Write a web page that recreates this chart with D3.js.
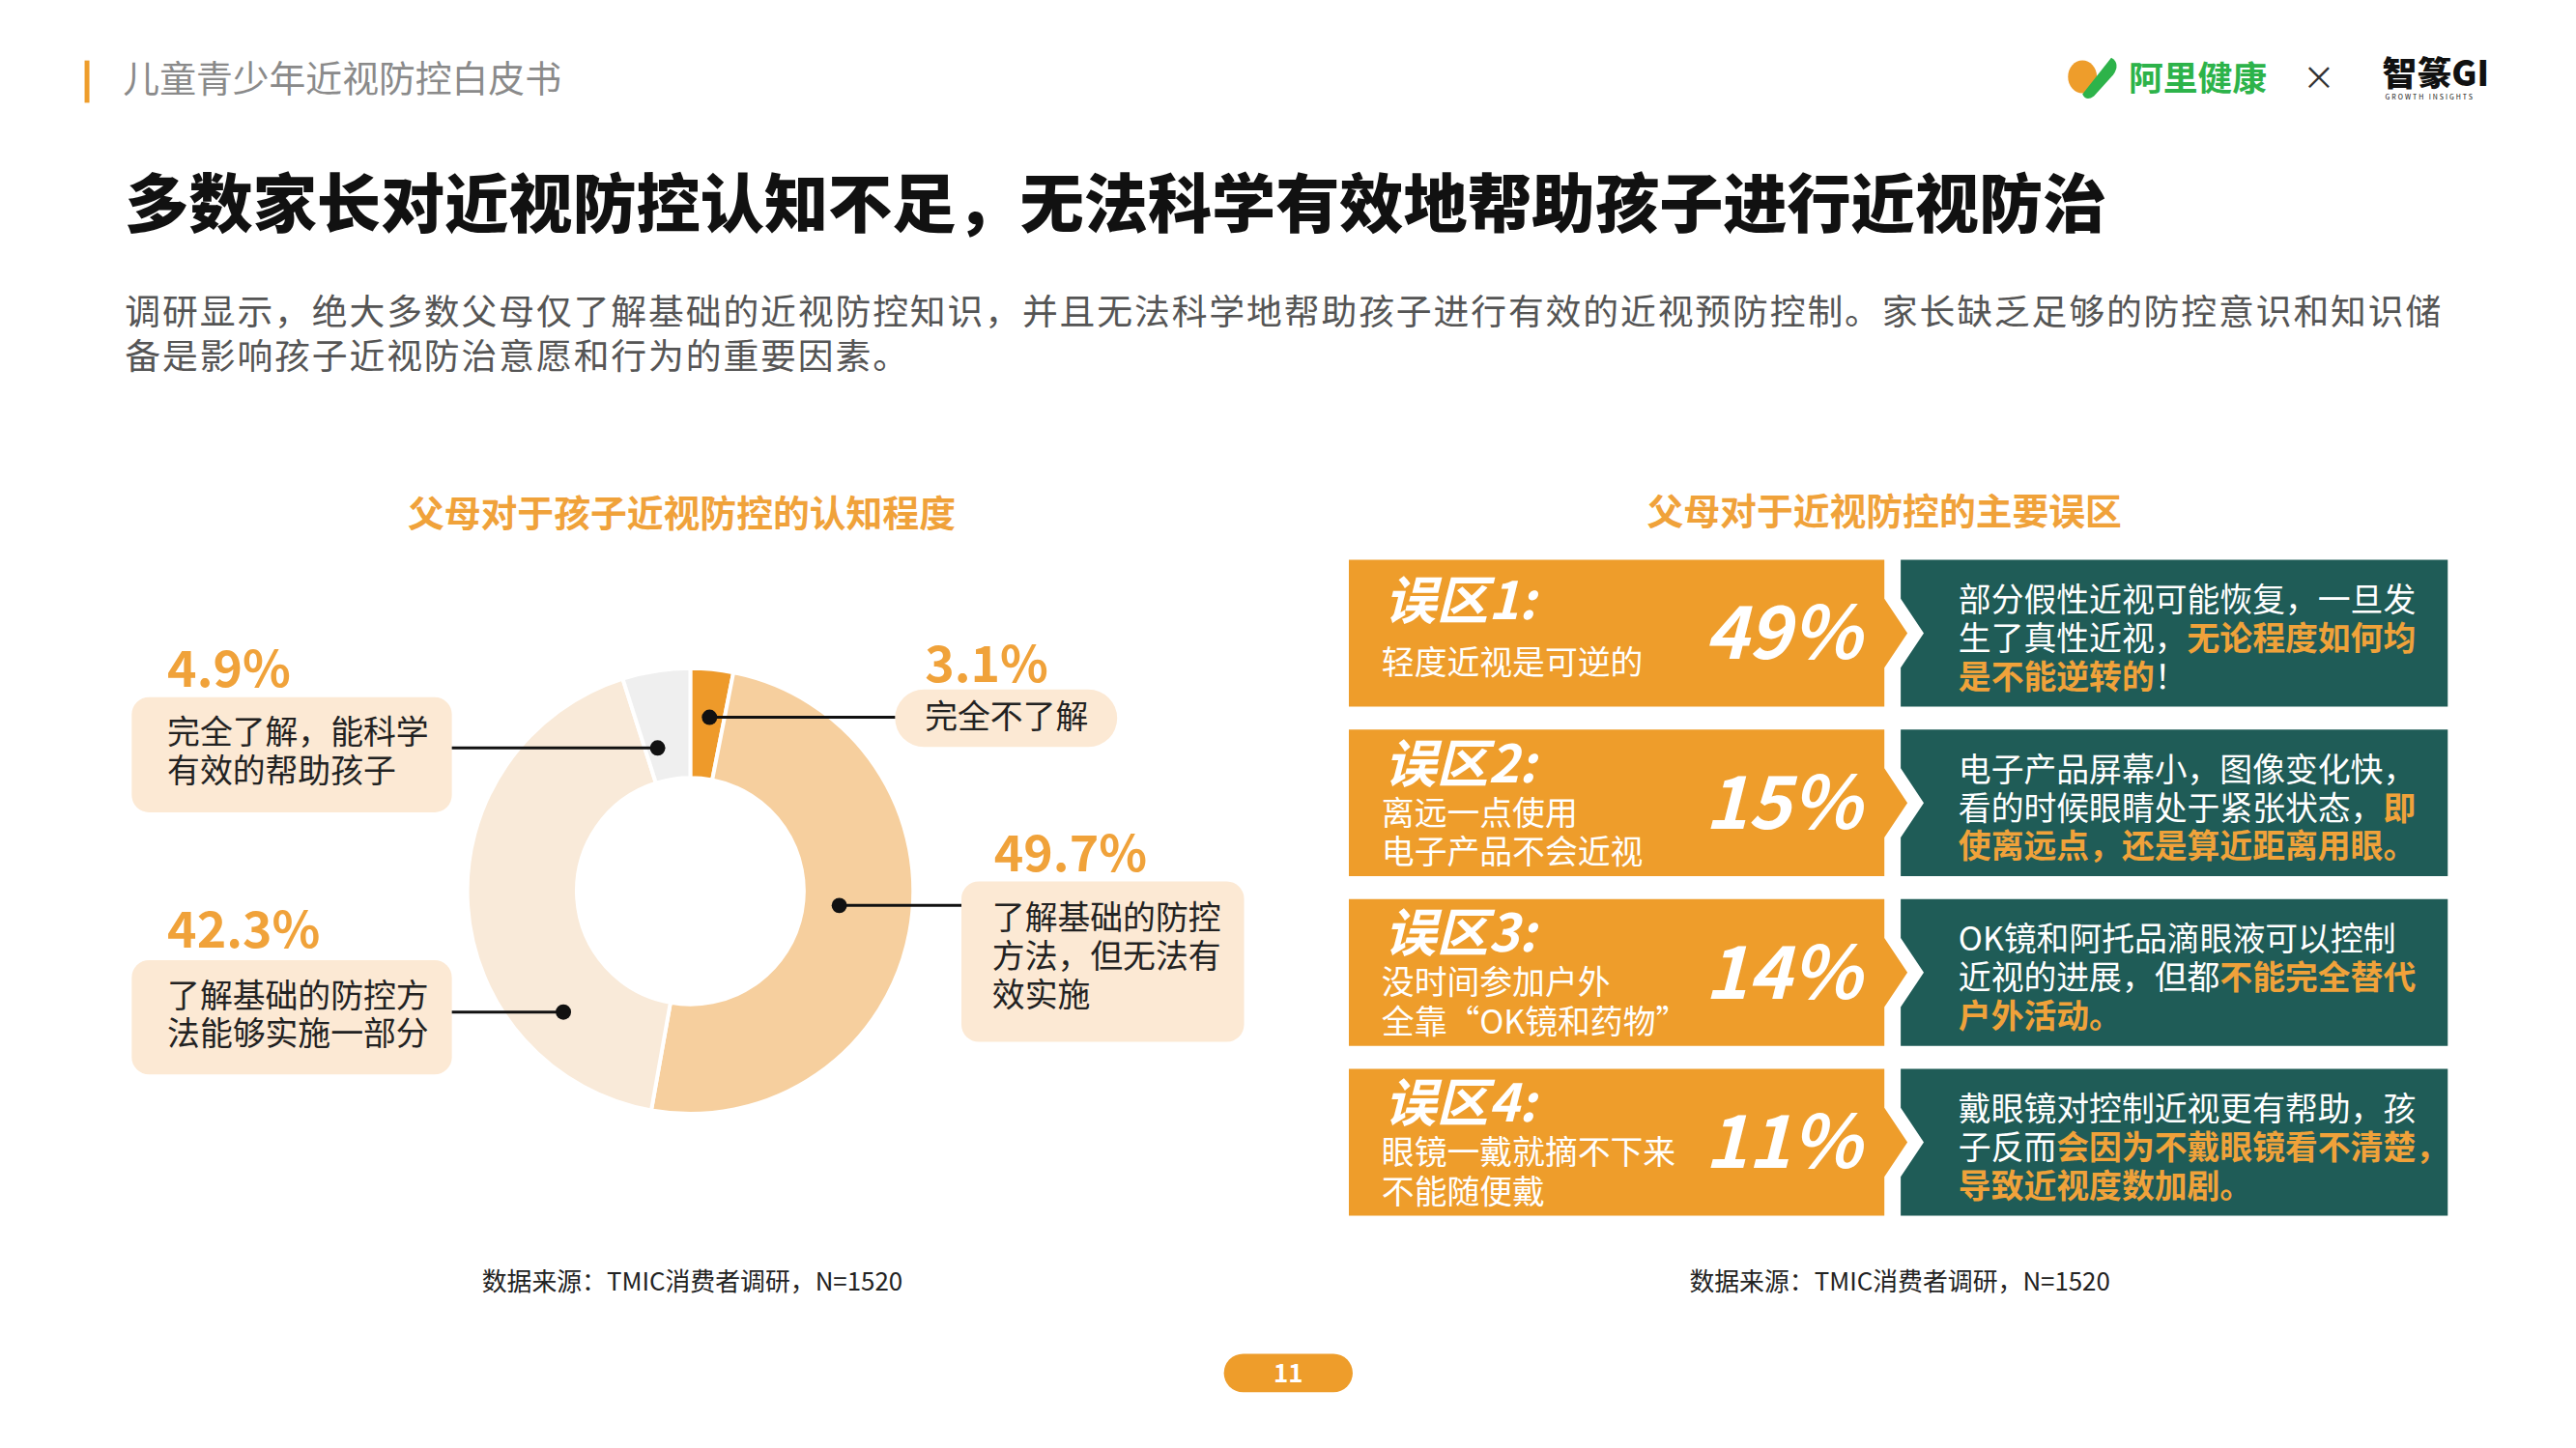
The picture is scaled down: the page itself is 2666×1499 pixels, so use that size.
<!DOCTYPE html>
<html><head><meta charset="utf-8">
<script src="https://cdn.jsdelivr.net/npm/d3@7"></script>
<style>body{margin:0;background:#fff}svg{display:block;font-family:"Noto Sans CJK SC","Noto Sans",sans-serif}</style>
</head><body><svg id="c" width="2666" height="1499"></svg>
<script>
const categories = ["完全不了解","了解基础的防控方法，但无法有效实施","了解基础的防控方法能够实施一部分","完全了解，能科学有效的帮助孩子"];
const values = [3.1, 49.7, 42.3, 4.9];
const valueLabels = ["3.1%","49.7%","42.3%","4.9%"];
const labelLines = [["完全不了解"],["了解基础的防控","方法，但无法有","效实施"],["了解基础的防控方","法能够实施一部分"],["完全了解，能科学","有效的帮助孩子"]];
const mythTitles = ["误区1:","误区2:","误区3:","误区4:"];
const mythSubs = [["轻度近视是可逆的"],["离远一点使用","电子产品不会近视"],["没时间参加户外","全靠“OK镜和药物”"],["眼镜一戴就摘不下来","不能随便戴"]];
const mythValues = [49, 15, 14, 11];
const mythExplain = [
 [[["部分假性近视可能恢复，一旦发",0]],[["生了真性近视，",0],["无论程度如何均",1]],[["是不能逆转的",1],["！",0]]],
 [[["电子产品屏幕小，图像变化快，",0]],[["看的时候眼睛处于紧张状态，",0],["即",1]],[["使离远点，还是算近距离用眼。",1]]],
 [[["OK镜和阿托品滴眼液可以控制",0]],[["近视的进展，但都",0],["不能完全替代",1]],[["户外活动。",1]]],
 [[["戴眼镜对控制近视更有帮助，孩",0]],[["子反而",0],["会因为不戴眼镜看不清楚，",1]],[["导致近视度数加剧。",1]]]
];
const ORANGE="#EE9D2B", TEAL="#1F5C57", LABEL="#F0A23A";
const svg=d3.select("#c").append("g").attr("transform","scale(0.995,0.994)");

// header
svg.append("rect").attr("x",88).attr("y",63).attr("width",5).attr("height",44).attr("fill",ORANGE);
svg.append("text").attr("x",128).attr("y",96).attr("font-size",38).attr("fill","#8a8a8a").text("儿童青少年近视防控白皮书");
svg.append("ellipse").attr("cx",2166).attr("cy",80).attr("rx",15).attr("ry",17).attr("fill",ORANGE);
svg.append("path").attr("d","M2166,98 L2196,60 Q2206,66 2198,78 L2178,100 Q2170,106 2166,98Z").attr("fill","#2DB34A");
svg.append("text").attr("x",2214).attr("y",95).attr("font-size",36).attr("font-weight",700).attr("fill","#2DB34A").text("阿里健康");
svg.append("text").attr("x",2412).attr("y",94).attr("font-size",34).attr("fill","#333").attr("text-anchor","middle").text("×");
svg.append("text").attr("x",2478).attr("y",90).attr("font-size",36).attr("font-weight",900).attr("fill","#111").text("智篆GI");
svg.append("text").attr("x",2481).attr("y",104).attr("font-size",7).attr("fill","#111").attr("letter-spacing",2).text("GROWTH INSIGHTS");

// title + paragraph
svg.append("text").attr("x",130).attr("y",236).attr("font-size",66.5).attr("font-weight",900).attr("fill","#111").text("多数家长对近视防控认知不足，无法科学有效地帮助孩子进行近视防治");
svg.append("text").attr("x",130).attr("y",338).attr("font-size",37).attr("letter-spacing",1.9).attr("fill","#555").text("调研显示，绝大多数父母仅了解基础的近视防控知识，并且无法科学地帮助孩子进行有效的近视预防控制。家长缺乏足够的防控意识和知识储");
svg.append("text").attr("x",130).attr("y",384).attr("font-size",37).attr("letter-spacing",1.9).attr("fill","#555").text("备是影响孩子近视防治意愿和行为的重要因素。");

// left chart
svg.append("text").attr("x",709).attr("y",548).attr("text-anchor","middle").attr("font-size",38).attr("font-weight",700).attr("fill",LABEL).text("父母对于孩子近视防控的认知程度");
const cx=718, cy=928, R=232, r=118;
const colors=d3.scaleOrdinal().domain(categories).range(["#EE9A2A","#F6CF9E","#F9EAD9","#EFEFEF"]);
const pie=d3.pie().sort(null).value(d=>d)(values);
const arc=d3.arc().innerRadius(r).outerRadius(R);
const g=svg.append("g").attr("transform",`translate(${cx},${cy})`);
g.selectAll("path").data(pie).join("path").attr("d",arc).attr("fill",(d,i)=>colors(categories[i])).attr("stroke","#fff").attr("stroke-width",4);

const boxes=[
 {bx:931,by:718,bw:231,bh:60,px:962,py:710,tx:962,ty:759,lx:931},
 {bx:1000,by:918,bw:294,bh:167,px:1034,py:907,tx:1032,ty:968,lx:1000},
 {bx:137,by:1000,bw:333,bh:119,px:174,py:987,tx:174,ty:1049,lx:470},
 {bx:137,by:726,bw:333,bh:120,px:174,py:715,tx:174,ty:775,lx:470}
];
const dotPos=[[738,747],[873,943],[586,1054],[684,779]];
pie.forEach((p,i)=>{
  const b=boxes[i];
  svg.append("rect").attr("x",b.bx).attr("y",b.by).attr("width",b.bw).attr("height",b.bh).attr("rx",b.bh<80?30:18).attr("fill","#FCE9D4");
  svg.append("text").attr("x",b.px).attr("y",b.py).attr("font-size",52).attr("font-weight",700).attr("fill",LABEL).text(valueLabels[i]);
  labelLines[i].forEach((l,j)=>svg.append("text").attr("x",b.tx).attr("y",b.ty+j*40).attr("font-size",34).attr("fill","#222").text(l));
  const [dx,dy]=dotPos[i];
  svg.append("line").attr("x1",dx).attr("y1",dy).attr("x2",b.lx).attr("y2",dy).attr("stroke","#111").attr("stroke-width",3);
  svg.append("circle").attr("cx",dx).attr("cy",dy).attr("r",8).attr("fill","#111");
});
svg.append("text").attr("x",720).attr("y",1344).attr("text-anchor","middle").attr("font-size",26).attr("fill","#222").text("数据来源：TMIC消费者调研，N=1520");

// right panel
svg.append("text").attr("x",1960).attr("y",546).attr("text-anchor","middle").attr("font-size",38).attr("font-weight",700).attr("fill",LABEL).text("父母对于近视防控的主要误区");
const y=d3.scaleBand().domain(mythTitles).range([583,1266]).paddingInner(0.135);
const ox0=1403, ox1=1960, tx0=1977, tx1=2546, tip=24, gap=9;
mythTitles.forEach((t,i)=>{
  const top=y(t), h=y.bandwidth(), bot=top+h, mid=top+h/2, hw=36;
  svg.append("path").attr("d",`M${ox0},${top}H${ox1}V${mid-hw}L${ox1+tip},${mid}L${ox1},${mid+hw}V${bot}H${ox0}Z`).attr("fill",ORANGE);
  svg.append("path").attr("d",`M${tx0},${top}H${tx1}V${bot}H${tx0}V${mid+hw}L${ox1+tip+gap+8},${mid}L${tx0},${mid-hw}Z`).attr("fill",TEAL);
  const one=mythSubs[i].length===1;
  svg.append("text").attr("x",1440).attr("y",top+(one?62:55)).attr("font-size",54).attr("font-weight",700).attr("font-style","italic").attr("fill","#fff").text(t);
  mythSubs[i].forEach((s,j)=>svg.append("text").attr("x",1437).attr("y",one?top+119:top+99+j*41).attr("font-size",34).attr("fill","#fff").text(s));
  svg.append("text").attr("x",1936).attr("y",mid+27).attr("text-anchor","end").attr("font-size",76).attr("font-weight",700).attr("font-style","italic").attr("fill","#fff").text(mythValues[i]+"%");
  mythExplain[i].forEach((line,j)=>{
    const tt=svg.append("text").attr("x",2037).attr("y",top+54+j*40).attr("font-size",34);
    line.forEach(([s,hl])=>tt.append("tspan").attr("fill",hl?LABEL:"#fff").attr("font-weight",hl?700:400).text(s));
  });
});
svg.append("text").attr("x",1976).attr("y",1344).attr("text-anchor","middle").attr("font-size",26).attr("fill","#222").text("数据来源：TMIC消费者调研，N=1520");

svg.append("rect").attr("x",1273).attr("y",1410).attr("width",134).attr("height",40).attr("rx",20).attr("fill",ORANGE);
svg.append("text").attr("x",1340).attr("y",1440).attr("text-anchor","middle").attr("font-size",26).attr("font-weight",700).attr("fill","#fff").text("11");
</script></body></html>
